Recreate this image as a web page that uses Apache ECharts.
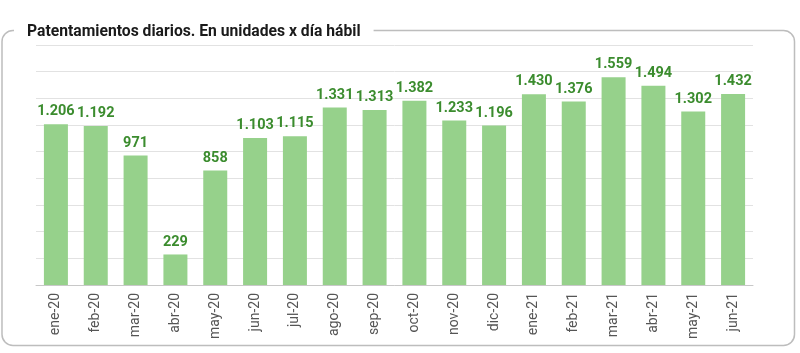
<!DOCTYPE html>
<html>
<head>
<meta charset="utf-8">
<script src="https://cdn.jsdelivr.net/npm/echarts@6/dist/echarts.min.js"></script>
<style>
html, body { margin: 0; padding: 0; background: #fff; }
#chart { width: 800px; height: 353px; }
</style>
</head>
<body>
<div id="chart"></div>
<script>
// meses
var meses = ['ene-20', 'feb-20', 'mar-20', 'abr-20', 'may-20', 'jun-20', 'jul-20', 'ago-20', 'sep-20',
    'oct-20', 'nov-20', 'dic-20', 'ene-21', 'feb-21', 'mar-21', 'abr-21', 'may-21', 'jun-21'];
// patentamientos diarios por dia habil
var patentamientos = [1206, 1192, 971, 229, 858, 1103, 1115, 1331, 1313,
    1382, 1233, 1196, 1430, 1376, 1559, 1494, 1302, 1432];
var titulo = 'Patentamientos diarios. En unidades x día hábil';

function miles(v) {
    return String(v).replace(/\B(?=(\d{3})+(?!\d))/g, '.');
}

var myChart = echarts.init(document.getElementById('chart'));
var option = {
    backgroundColor: '#fff',
    animation: false,
    graphic: [{
        type: 'rect',
        z: -1,
        shape: { x: 2, y: 30.5, width: 792.5, height: 315, r: 11 },
        style: { fill: 'none', stroke: '#bdbdbd', lineWidth: 1.5 }
    }],
    title: {
        text: titulo,
        left: 14,
        top: 22,
        padding: [2, 13],
        backgroundColor: '#fff',
        textStyle: {
            fontFamily: 'Roboto',
            fontWeight: 'bold',
            fontSize: 15.7,
            color: '#1a1a1a'
        }
    },
    grid: {
        left: 36,
        right: 47,
        top: 45,
        bottom: 68
    },
    xAxis: {
        type: 'category',
        data: meses,
        axisLine: { lineStyle: { color: '#c8c8c8' } },
        axisTick: { length: 5, lineStyle: { color: '#c8c8c8' } },
        axisLabel: {
            rotate: 90,
            margin: 8,
            fontFamily: 'Roboto',
            fontSize: 14,
            color: '#555'
        }
    },
    yAxis: {
        type: 'value',
        min: 0,
        max: 1800,
        interval: 200,
        axisLabel: { show: false },
        axisLine: { show: false },
        axisTick: { show: false },
        splitLine: { lineStyle: { color: '#e2e2e2' } }
    },
    series: [{
        type: 'bar',
        data: patentamientos,
        barWidth: 24,
        itemStyle: { color: '#96d18b' },
        label: {
            show: true,
            position: 'top',
            distance: 5,
            formatter: function (p) { return miles(p.value); },
            fontFamily: 'Roboto',
            fontWeight: 'bold',
            fontSize: 14.5,
            color: '#3b8c2e'
        }
    }]
};
myChart.setOption(option);
</script>
</body>
</html>
